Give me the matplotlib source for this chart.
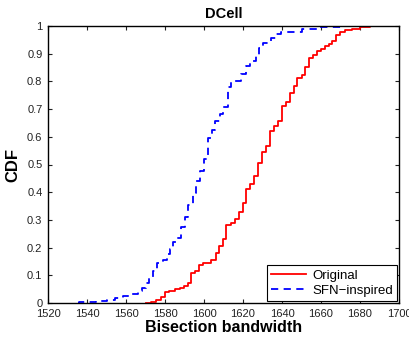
import matplotlib
matplotlib.use('Agg')
import matplotlib.pyplot as plt

orig_x = [1570, 1573, 1575.6, 1577.8, 1580.2, 1582.1, 1585, 1587.5, 1589.8, 1591.8,
          1593.5, 1595.6, 1597.4, 1599.5, 1603.8, 1606, 1607.7, 1609.7, 1611.5, 1613.7,
          1615.7, 1617.8, 1620, 1621.7, 1623.8, 1625.6, 1627.7, 1629.9, 1632, 1633.7,
          1635.7, 1638, 1640, 1641.9, 1644, 1646, 1647.9, 1650, 1652, 1653.8,
          1655.9, 1658, 1659.8, 1661.9, 1663.9, 1665.8, 1667.9, 1669.9, 1672.2, 1676.1,
          1679.8, 1685, 1686.7]
orig_y = [0, 0.005, 0.01, 0.02, 0.04, 0.043, 0.049, 0.055, 0.061, 0.073,
          0.11, 0.116, 0.137, 0.146, 0.156, 0.18, 0.207, 0.23, 0.28, 0.29,
          0.305, 0.33, 0.36, 0.41, 0.43, 0.46, 0.505, 0.545, 0.565, 0.62,
          0.64, 0.656, 0.71, 0.726, 0.758, 0.785, 0.812, 0.824, 0.851, 0.885,
          0.894, 0.908, 0.918, 0.929, 0.935, 0.947, 0.969, 0.98, 0.987, 0.99,
          0.996, 1.0, 1.0]

sfn_x = [1535.4, 1536, 1541.4, 1544.8, 1550, 1554.2, 1558.5, 1561.9, 1566.2, 1568,
         1570, 1572, 1574, 1576, 1579, 1581, 1582.5, 1584, 1585.8, 1588,
         1590.1, 1591.8, 1594.4, 1596.1, 1597.8, 1599.8, 1602.1, 1604, 1605.5, 1608,
         1609.8, 1612.3, 1614, 1619.2, 1621.7, 1623.8, 1626.9, 1628, 1630.3, 1634.6,
         1637.1, 1639.7, 1650, 1659.3, 1670, 1678]
sfn_y = [0, 0.002, 0.005, 0.009, 0.012, 0.018, 0.024, 0.034, 0.045, 0.055,
         0.072, 0.095, 0.116, 0.146, 0.156, 0.177, 0.195, 0.22, 0.235, 0.276,
         0.31, 0.354, 0.396, 0.44, 0.476, 0.52, 0.595, 0.625, 0.656, 0.682,
         0.708, 0.78, 0.8, 0.825, 0.855, 0.875, 0.895, 0.922, 0.94, 0.955,
         0.972, 0.98, 0.99, 0.995, 1.0, 1.0]

x_ticks = list(range(1520, 1701, 20))
y_ticks = [i / 10 for i in range(11)]
y_labels = ['0', '0.1', '0.2', '0.3', '0.4', '0.5', '0.6', '0.7', '0.8', '0.9', '1']

plt.rcParams['font.family'] = ['Liberation Sans', 'DejaVu Sans']

fig = plt.figure(figsize=(4.09, 3.41), dpi=100)
ax = fig.add_axes([48 / 409, 38 / 341, 351 / 409, 277 / 341])

ax.plot(orig_x, orig_y, drawstyle='steps-post', color='red', lw=1.3, label='Original')
ax.plot(sfn_x, sfn_y, drawstyle='steps-post', color='blue', lw=1.3,
        dashes=(4, 3), label='SFN\u2212inspired')

ax.set_xlim(1520, 1700)
ax.set_ylim(0, 1)
ax.set_xticks(x_ticks)
ax.set_yticks(y_ticks)
ax.set_yticklabels(y_labels)
ax.tick_params(direction='in', top=True, right=True, labelsize=8, length=3, pad=4,
               width=0.8, colors='#222222')
for s in ax.spines.values():
    s.set_linewidth(1.0)

ax.set_title('DCell', fontsize=10.5, fontweight='bold', pad=6)
ax.set_xlabel('Bisection bandwidth', fontsize=11.5, fontweight='bold', labelpad=1)
ax.set_ylabel('CDF', fontsize=12, fontweight='bold', labelpad=5)

leg = ax.legend(loc='lower right', fontsize=9.5, fancybox=False, framealpha=1,
                edgecolor='black', borderaxespad=0.15, handlelength=2.6,
                borderpad=0.3, labelspacing=0.25, handletextpad=0.5)
leg.get_frame().set_linewidth(0.8)

fig.savefig('out.png', dpi=100)
